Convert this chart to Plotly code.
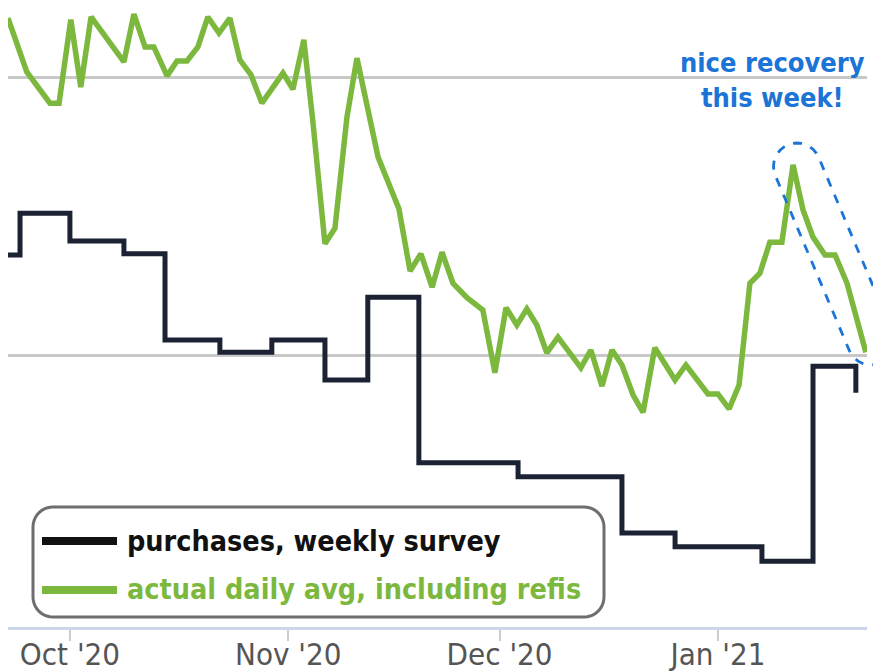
import math
import plotly.graph_objects as go

# ---------------- data ----------------
weekly_dates = [
    "2020-09-22 05:00", "2020-09-23 22:00", "2020-10-01 00:00", "2020-10-08 16:00",
    "2020-10-14 12:00", "2020-10-22 07:00", "2020-10-29 16:00", "2020-11-06 05:00",
    "2020-11-12 07:00", "2020-11-19 13:00", "2020-12-03 15:00", "2020-12-18 09:00",
    "2020-12-25 22:00", "2021-01-07 06:00", "2021-01-14 12:00", "2021-01-20 14:00",
]
weekly_values = [
    68.0, 75.5, 70.5, 68.2,
    52.7, 50.5, 52.7, 45.5,
    60.4, 30.6, 28.1, 18.0,
    15.5, 12.9, 48.0, 43.2,
]

daily_dates = [
    "2020-09-22 05:00", "2020-09-24 21:00", "2020-09-28 04:00", "2020-09-29 11:00",
    "2020-10-01 03:00", "2020-10-02 13:00", "2020-10-04 00:00", "2020-10-08 16:00",
    "2020-10-10 02:00", "2020-10-11 16:00", "2020-10-12 22:00", "2020-10-14 19:00",
    "2020-10-16 05:00", "2020-10-17 15:00", "2020-10-19 04:00", "2020-10-20 14:00",
    "2020-10-22 04:00", "2020-10-23 17:00", "2020-10-25 03:00", "2020-10-26 17:00",
    "2020-10-28 06:00", "2020-10-31 06:00", "2020-11-01 16:00", "2020-11-03 05:00",
    "2020-11-04 12:00", "2020-11-06 05:00", "2020-11-07 15:00", "2020-11-09 08:00",
    "2020-11-10 18:00", "2020-11-13 18:00", "2020-11-16 17:00", "2020-11-18 07:00",
    "2020-11-19 20:00", "2020-11-21 10:00", "2020-11-22 20:00", "2020-11-24 09:00",
    "2020-11-26 09:00", "2020-11-28 15:00", "2020-11-30 08:00", "2020-12-01 22:00",
    "2020-12-03 11:00", "2020-12-04 21:00", "2020-12-06 07:00", "2020-12-07 17:00",
    "2020-12-09 07:00", "2020-12-12 13:00", "2020-12-13 23:00", "2020-12-15 13:00",
    "2020-12-16 23:00", "2020-12-18 09:00", "2020-12-19 23:00", "2020-12-21 09:00",
    "2020-12-23 01:00", "2020-12-25 22:00", "2020-12-27 11:00", "2020-12-30 14:00",
    "2021-01-01 00:00", "2021-01-02 14:00", "2021-01-04 00:00", "2021-01-05 13:00",
    "2021-01-06 23:00", "2021-01-08 09:00", "2021-01-10 02:00", "2021-01-11 16:00",
    "2021-01-13 02:00", "2021-01-14 12:00", "2021-01-16 05:00", "2021-01-17 15:00",
    "2021-01-19 08:00", "2021-01-20 18:00", "2021-01-22 00:00",
]
daily_values = [
    110.6, 100.9, 95.3, 95.3,
    110.3, 98.2, 110.8, 102.7,
    111.3, 105.4, 105.4, 100.2,
    102.9, 102.9, 105.4, 110.8,
    107.9, 110.6, 103.1, 100.4,
    95.3, 100.7, 97.8, 106.7,
    91.9, 70.0, 72.8, 92.8,
    103.4, 85.6, 76.3, 65.1,
    68.2, 62.2, 68.5, 62.9,
    60.3, 58.1, 46.8, 58.5,
    55.4, 58.3, 55.4, 50.4,
    53.2, 47.7, 50.9, 44.4,
    50.9, 48.2, 42.8, 39.7,
    51.3, 45.5, 48.2, 43.0,
    43.0, 40.3, 44.6, 62.9,
    64.7, 70.3, 70.3, 84.2,
    76.1, 71.2, 68.0, 68.0,
    62.9, 56.3, 50.5,
]

tick_dates = ["2020-10-01", "2020-11-01", "2020-12-01", "2021-01-01"]
tick_labels = ["Oct '20", "Nov '20", "Dec '20", "Jan '21"]
grid_values = [50, 100]

series_names = ["purchases, weekly survey", "actual daily avg, including refis"]
note_text = "nice recovery<br>this week!"

# ---------------- styling ----------------
W, H = 873, 671
ML, MR, MT, MB = 8, 6, 0, 44
PW, PH = W - ML - MR, H - MT - MB

DARK = "#1a2233"
GREEN = "#7cb83e"
BLUE = "#1b74d6"
FONT = "DejaVu Sans Condensed"


def fx(px):
    return (px - ML) / PW


def fy(py):
    return (MT + PH - py) / PH


def arc(cx, cy, rad, a0, a1, n=10):
    out = []
    for i in range(n + 1):
        a = math.radians(a0 + (a1 - a0) * i / n)
        out.append((cx + rad * math.cos(a), cy + rad * math.sin(a)))
    return out


fig = go.Figure()
fig.add_trace(go.Scatter(
    x=daily_dates, y=daily_values, mode="lines", name=series_names[1],
    line=dict(color=GREEN, width=5.5), showlegend=False,
))
fig.add_trace(go.Scatter(
    x=weekly_dates, y=weekly_values, mode="lines", name=series_names[0],
    line=dict(color=DARK, width=5, shape="hv"), showlegend=False,
))

shapes = []

# rounded legend box
x0, y0, x1, y1, r = 33, 507, 604, 617, 20
pts = []
pts += arc(x1 - r, y0 + r, r, -90, 0)
pts += arc(x1 - r, y1 - r, r, 0, 90)
pts += arc(x0 + r, y1 - r, r, 90, 180)
pts += arc(x0 + r, y0 + r, r, 180, 270)
path = "M " + " L ".join(f"{fx(a):.5f},{fy(b):.5f}" for a, b in pts) + " Z"
shapes.append(dict(type="path", xref="paper", yref="paper", path=path,
                   line=dict(color="#6e6e6e", width=3), fillcolor="white", layer="above"))

# legend sample lines
for yy, col in [(541, "#111111"), (590, GREEN)]:
    shapes.append(dict(type="line", xref="paper", yref="paper",
                       x0=fx(42), x1=fx(117), y0=fy(yy), y1=fy(yy),
                       line=dict(color=col, width=8), layer="above"))

# dashed capsule around the recovery
c1 = (797.0, 166.5)
c2 = (871.0, 341.5)
rc = 23.5
th = math.degrees(math.atan2(c2[1] - c1[1], c2[0] - c1[0]))
cpts = arc(c2[0], c2[1], rc, th - 90, th + 90, 16) + arc(c1[0], c1[1], rc, th + 90, th + 270, 16)
cpath = "M " + " L ".join(f"{fx(a):.5f},{fy(b):.5f}" for a, b in cpts) + " Z"
shapes.append(dict(type="path", xref="paper", yref="paper", path=cpath,
                   line=dict(color=BLUE, width=2.8, dash="dash"), layer="above"))

annotations = [
    dict(xref="paper", yref="paper", x=fx(125), y=fy(541), xanchor="left", yanchor="middle",
         text=series_names[0], showarrow=False,
         font=dict(family=FONT, size=28.5, color="#111111", weight="bold")),
    dict(xref="paper", yref="paper", x=fx(125), y=fy(589), xanchor="left", yanchor="middle",
         text=series_names[1], showarrow=False,
         font=dict(family=FONT, size=28.5, color=GREEN, weight="bold")),
    dict(xref="paper", yref="paper", x=fx(772), y=fy(80), xanchor="center", yanchor="middle",
         text=note_text, showarrow=False, align="center",
         font=dict(family=FONT, size=27, color=BLUE, weight="bold")),
]

fig.update_layout(
    width=W, height=H,
    margin=dict(l=ML, r=MR, t=MT, b=MB, autoexpand=False),
    paper_bgcolor="white", plot_bgcolor="white",
    shapes=shapes, annotations=annotations,
    showlegend=False,
    xaxis=dict(
        type="date", automargin=False,
        range=["2020-09-22 05:00", "2021-01-22 04:00"],
        tickvals=tick_dates, ticktext=tick_labels,
        ticks="outside", ticklen=11, tickcolor="#cccccc", tickwidth=1.5,
        ticklabelstandoff=-13,
        showline=True, linecolor="#ccd6eb", linewidth=3,
        showgrid=False, zeroline=False,
        tickfont=dict(family=FONT, size=31, color="#555555"),
    ),
    yaxis=dict(
        range=[1.08, 113.85], automargin=False,
        tickvals=grid_values, showticklabels=False,
        showgrid=True, gridcolor="#c8c8c8", gridwidth=2.5,
        zeroline=False, showline=False,
    ),
)

fig.write_html(
    "out.html",
    config={"displayModeBar": False},
    post_script="document.body.style.margin='0';document.body.style.overflow='hidden';",
)
